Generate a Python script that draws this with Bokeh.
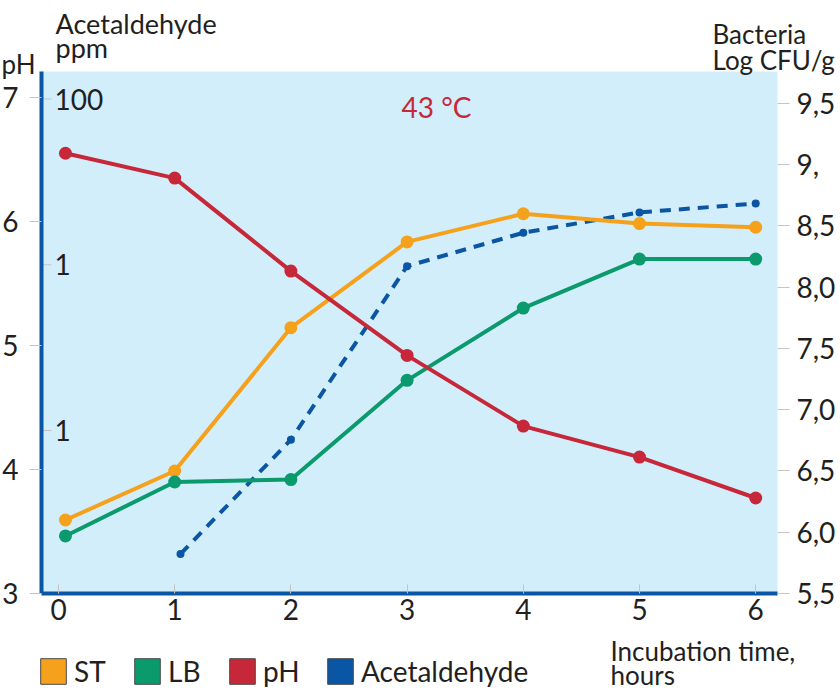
from bokeh.plotting import figure
from bokeh.models import (Range1d, LinearAxis, LogScale, FixedTicker, Label, LabelSet,
                          ColumnDataSource, Legend, LegendItem, BoxAnnotation)
from bokeh.core.properties import value
from bokeh.embed import file_html
from bokeh.resources import INLINE

# ---------------- data ----------------
hours = [0.06, 1, 2, 3, 4, 5, 6]
st = [6.10, 6.50, 7.67, 8.37, 8.60, 8.52, 8.49]
lb = [5.97, 6.41, 6.43, 7.24, 7.83, 8.23, 8.23]
ph = [6.55, 6.35, 5.60, 4.92, 4.35, 4.10, 3.77]
acet_hours = [1.05, 2, 3, 4, 5, 6]
acet = [0.18, 0.88, 9.8, 15.6, 20.7, 23.4]

x_ticks = [0, 1, 2, 3, 4, 5, 6]
ph_ticks = [3, 4, 5, 6, 7]
bact_ticks = [5.5, 6.0, 6.5, 7.0, 7.5, 8.0, 8.5, 9.0, 9.5]
bact_tick_labels = ["5,5", "6,0", "6,5", "7,0", "7,5", "8,0", "8,5", "9,", "9,5"]
acet_ticks = [1, 10, 100]
acet_tick_labels = ["1", "1", "100"]

legend_names = ["ST", "LB", "pH", "Acetaldehyde"]

# ---------------- style ----------------
FONT = "Lato"
TXT = "#231f20"
ORANGE = "#f6a11c"
GREEN = "#0a9a6b"
RED = "#c62839"
BLUE = "#0b56a4"
BG = "#d3eefb"
TICK = "#c4c4c4"

W, H = 840, 692
# plot area (in data units of each scale)
XA0, XA1 = -0.1463, 6.1876          # hours at plot-area left/right edge
PH0, PH1 = 3.0, 7.21                # pH at plot-area bottom/top
B0, B1 = 5.5, 9.761                 # bacteria at plot-area bottom/top
# full canvas ranges (axes are drawn at fixed locations inside the canvas)
p = figure(width=W, height=H, output_backend="svg", toolbar_location=None,
           x_range=Range1d(-0.4991, 6.7298), y_range=Range1d(2.2016, 7.782),
           x_axis_location=None, y_axis_location=None,
           min_border=0)
p.extra_y_ranges = {"bact": Range1d(4.6918, 10.3408), "acet": Range1d(0.02626, 392.9)}
p.extra_y_scales = {"acet": LogScale()}

p.background_fill_color = "white"
p.border_fill_color = "white"
p.outline_line_color = None
p.grid.visible = False

# plot-area background
p.add_layout(BoxAnnotation(left=XA0, right=XA1, bottom=PH0, top=PH1,
                           fill_color=BG, fill_alpha=1, line_color=None, level="underlay"))

def style_axis(ax):
    ax.major_label_text_font = FONT
    ax.major_label_text_font_size = "28px"
    ax.major_label_text_color = TXT
    ax.major_tick_line_color = TICK
    ax.major_tick_line_width = 1
    ax.minor_tick_line_color = None

# bottom axis
xa = LinearAxis(ticker=FixedTicker(ticks=x_ticks), fixed_location=PH0, bounds=(XA0, XA1))
style_axis(xa)
xa.axis_line_color = BLUE
xa.axis_line_width = 4
xa.major_tick_in = 9
xa.major_tick_out = 0
xa.major_label_standoff = 6
p.add_layout(xa, "below")

# left pH axis
ya = LinearAxis(ticker=FixedTicker(ticks=ph_ticks), fixed_location=XA0, bounds=(PH0, PH1))
style_axis(ya)
ya.axis_line_color = BLUE
ya.axis_line_width = 4
ya.major_tick_in = 0
ya.major_tick_out = 12
ya.major_label_standoff = 11
p.add_layout(ya, "left")

# right bacteria axis
ra = LinearAxis(y_range_name="bact", ticker=FixedTicker(ticks=bact_ticks),
                fixed_location=XA1, bounds=(B0, B1),
                major_label_overrides={t: l for t, l in zip(bact_ticks, bact_tick_labels)})
style_axis(ra)
ra.axis_line_color = None
ra.major_tick_in = 0
ra.major_tick_out = 12
ra.major_label_standoff = 7
p.add_layout(ra, "right")

# acetaldehyde inner ticks + labels
acet_src = ColumnDataSource(dict(y=acet_ticks, text=acet_tick_labels))
p.segment(x0=XA0, x1=XA0 + 10 / 116.2, y0="y", y1="y", source=acet_src,
          y_range_name="acet", line_color=TICK, line_width=1)
p.add_layout(LabelSet(x=54, x_units="screen", y="y", y_range_name="acet", text="text",
                      source=acet_src, text_font=value(FONT), text_font_size=value("28px"),
                      text_color=TXT, text_baseline="middle", text_align="left"))

# ---------------- series ----------------
p.line(acet_hours, acet, y_range_name="acet", line_color=BLUE, line_width=4, line_dash="11 8")
p.scatter(acet_hours, acet, y_range_name="acet", size=8, fill_color=BLUE, line_color=None)

p.line(hours, st, y_range_name="bact", line_color=ORANGE, line_width=4)
p.scatter(hours, st, y_range_name="bact", size=13, fill_color=ORANGE, line_color=None)

p.line(hours, lb, y_range_name="bact", line_color=GREEN, line_width=4)
p.scatter(hours, lb, y_range_name="bact", size=13, fill_color=GREEN, line_color=None)

p.line(hours, ph, line_color=RED, line_width=4)
p.scatter(hours, ph, size=13, fill_color=RED, line_color=None)

# ---------------- texts ----------------
def lab(text, x, y_top, size="26px", color=TXT):
    # y_top: baseline position measured from the top of the canvas
    p.add_layout(Label(x=x, y=H - y_top, x_units="screen", y_units="screen", text=text,
                       text_font=FONT, text_font_size=size, text_color=color,
                       text_align="left", text_baseline="alphabetic"))

lab("Acetaldehyde", 55, 23, size="27px")
lab("ppm", 55, 47, size="27px")
lab("pH", 1, 63)
lab("Bacteria", 712, 33)
lab("Log CFU/g", 712, 59)
lab("43 °C", 401, 106, size="28px", color=RED)
lab("Incubation time,", 610, 650)
lab("hours", 610, 674)

# ---------------- legend ----------------
legend_colors = [ORANGE, GREEN, RED, BLUE]
legend_x = [37, 131, 226, 324]
nan = float("nan")
for name, col, lx in zip(legend_names, legend_colors, legend_x):
    src = ColumnDataSource(dict(l=[nan], r=[nan], t=[nan], b=[nan]))
    r = p.quad(left="l", right="r", top="t", bottom="b", source=src,
               fill_color=col, line_color="#4a4a4a", line_width=1)
    lg = Legend(items=[LegendItem(label=name, renderers=[r])], location=(lx, 4),
                orientation="horizontal", glyph_width=32, glyph_height=32,
                label_height=32, label_standoff=5, padding=0, margin=0, spacing=0,
                background_fill_alpha=0, border_line_color=None,
                label_text_font=FONT, label_text_font_size="28px",
                label_text_color=TXT)
    p.add_layout(lg, "center")

open("out.html", "w").write(file_html(p, INLINE))
